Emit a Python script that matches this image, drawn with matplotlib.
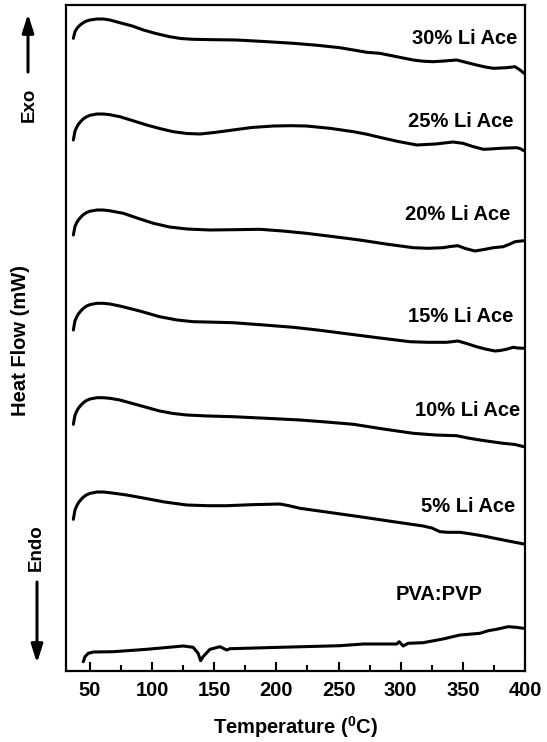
import matplotlib
matplotlib.use("Agg")
import matplotlib.pyplot as plt
from matplotlib.patches import FancyArrowPatch
from matplotlib.ticker import MultipleLocator

plt.rcParams['font.family'] = ['Liberation Sans', 'DejaVu Sans']
plt.rcParams['font.weight'] = 'bold'
plt.rcParams['mathtext.fontset'] = 'custom'
plt.rcParams['mathtext.rm'] = 'Liberation Sans:bold'
plt.rcParams['mathtext.bf'] = 'Liberation Sans:bold'
plt.rcParams['mathtext.it'] = 'Liberation Sans:bold'

# Temperature (°C) / heat flow (arbitrary, stacked)
t30 = [36.6, 37.9, 39.2, 40.6, 42.5, 44.6, 47, 50, 55.6, 60.7, 66, 74, 84, 93, 103, 114, 123, 133, 150, 168, 190,
       213.6, 233, 251, 262, 272.6, 283, 296, 310, 318, 326, 335, 345, 353, 361, 368, 374.5, 385, 392, 396, 400]
h30 = [632.7, 639.3, 642.0, 644.3, 646.4, 648.3, 649.9, 651.0, 652, 652, 651, 648.3, 645, 641, 637.5, 634.3, 632.5, 631.7, 631.3, 631, 629.5,
       627.7, 625.7, 623.3, 621, 618.7, 617.7, 614.5, 611, 609.8, 609.3, 610, 611, 608.5, 606, 604, 602.7, 603.3, 604.3, 601, 597]

t25 = [36.6, 37.9, 39.2, 40.6, 42.5, 44.6, 47, 50, 55.6, 60.7, 66, 74, 84, 95.6, 106, 117, 128, 138.5, 150, 165, 180,
       197.5, 212, 224, 243, 262, 273, 283, 298, 313, 328, 342, 350, 358, 366.5, 372, 380, 393, 396, 399]
h25 = [531, 539.8, 543.5, 546.6, 549.5, 552.1, 554.1, 555.7, 557, 557, 556.3, 554.3, 550.5, 546, 542.5, 539.3, 537.5, 537, 538.5, 541, 543.5,
       545, 545.3, 545, 542.7, 539.3, 536.7, 533.7, 529.5, 526, 527, 529, 527.7, 524.5, 521.7, 522, 522.7, 523.3, 522.5, 520.3]

t20 = [36.6, 37.9, 39.2, 40.6, 42.5, 44.6, 47, 50, 55.6, 60.7, 66, 76.8, 89, 101, 114, 128, 146.5, 166, 186.8, 205,
       224, 245, 267, 288, 310, 322, 334, 340, 346, 352, 359.7, 367, 374.5, 382.5, 387, 392, 399]
h20 = [436, 444.5, 448, 451, 453.8, 456.3, 458.3, 459.8, 461, 461, 460.2, 457.7, 452.5, 447.7, 444, 442, 441, 441.3, 441.7, 440,
       437.7, 434.5, 431, 427, 423.3, 422.7, 423.3, 424.5, 425.3, 422.5, 420, 421.5, 423.3, 424.3, 426.5, 429.3, 430.3]

t15 = [36.6, 37.9, 39.2, 40.6, 42.5, 44.6, 47, 50, 55.6, 60.7, 66, 74, 90, 106, 120, 133, 150, 165, 190, 213.6,
       233, 253.8, 280, 307.4, 322, 337, 346, 353, 361, 368, 375.8, 380, 385, 390.5, 394, 399]
h15 = [341, 350.1, 353.8, 357, 359.9, 362.6, 364.8, 366.4, 367.7, 367.7, 367, 365, 360, 354.3, 351, 349.3, 348.8, 348.3, 346, 343.7,
       341, 337.7, 333.5, 329.3, 328.7, 328.7, 330, 327.5, 324.3, 322, 320, 320.5, 321.7, 323.7, 323, 322.7]

t10 = [36.6, 37.9, 39.2, 40.6, 42.5, 44.6, 47, 50, 55.6, 60.7, 66, 74, 90, 106, 117, 127.8, 145, 165, 192, 219,
       240, 262, 286, 310, 328, 345, 354, 363.7, 372, 382.5, 392, 399]
h10 = [246.7, 255.7, 259.5, 262.7, 265.6, 268.2, 270.4, 272, 273.3, 273.3, 272.7, 271, 265.5, 260, 257.5, 256, 255, 254.3, 252.7, 251,
       249, 246.7, 242, 237.7, 236, 235.3, 233, 231, 229.5, 227.7, 226.5, 224.3]

t05 = [36.6, 37.9, 39.2, 40.6, 42.5, 44.6, 47, 50, 55.6, 60.7, 66, 79.5, 95, 110, 127.8, 145, 160, 180, 202.9, 210,
       219, 243, 267, 292, 318, 325, 331.6, 338, 347.7, 357, 366.5, 382.5, 399]
h05 = [151.7, 161, 164.8, 168.1, 171.1, 173.8, 176, 177.6, 179, 179, 178.3, 176, 172.5, 169, 166, 165.3, 165.3, 166.3, 167, 165.3,
       162.7, 158.5, 154.3, 149.7, 145, 143, 139.3, 138.7, 138.7, 137, 135, 131, 127]

t00 = [44.6, 46, 48.6, 52.7, 68.7, 95.6, 125, 133, 137, 139, 141, 146.5, 154.6, 160, 162.6, 202.9, 251, 270,
       296.7, 298.8, 302, 306, 318, 334, 347.7, 363.7, 370.5, 377, 386.5, 393, 398.5]
h00 = [9.3, 14.3, 17.7, 19, 19.3, 21.7, 25, 23.7, 17.7, 10.3, 14.3, 21.7, 24.3, 21, 22.3, 23.7, 25.3, 27,
       27, 29.3, 25, 27.7, 28.3, 32, 36, 37.7, 40.3, 41.7, 44.3, 43.7, 42.7]

curves_t = [t30, t25, t20, t15, t10, t05, t00]
curves_h = [h30, h25, h20, h15, h10, h05, h00]
labels = ['30% Li Ace', '25% Li Ace', '20% Li Ace', '15% Li Ace', '10% Li Ace', '5% Li Ace', 'PVA:PVP']
label_x = [517, 513, 510, 513, 520, 515, 483]   # right edge, pixels
label_y = [38.5, 121.5, 215, 316, 410, 506, 595]

W, H = 547, 742
fig = plt.figure(figsize=(W / 100, H / 100), dpi=100)
ax = fig.add_axes([66 / W, 1 - 671 / H, (525 - 66) / W, (671 - 5) / H])

for t, h in zip(curves_t, curves_h):
    ax.plot(t, h, color='black', lw=2.2, solid_capstyle='round', solid_joinstyle='round')

x0 = 50 - (90 - 66) / 1.243
ax.set_xlim(x0, 400)
ax.set_ylim(0, 666)
ax.xaxis.set_major_locator(MultipleLocator(50))
ax.xaxis.set_minor_locator(MultipleLocator(25))
ax.tick_params(axis='x', which='major', direction='in', length=6.5, width=1.5,
               labelsize=14.5, pad=7, top=False)
ax.tick_params(axis='x', which='minor', direction='in', length=4, width=1.5, top=False)
ax.set_yticks([])
for s in ax.spines.values():
    s.set_linewidth(1.6)
for lab in ax.get_xticklabels():
    lab.set_fontweight('bold')

for lab, px, py in zip(labels, label_x, label_y):
    fig.text(px / W, 1 - py / H, lab, ha='right', va='center', fontsize=14.5, fontweight='bold')

fig.text(296 / W, 1 - 727 / H, r'Temperature ($^{0}$C)', ha='center', va='center',
         fontsize=14.5, fontweight='bold')
fig.text(21 / W, 1 - 340 / H, 'Heat Flow (mW)', rotation=90, ha='center', va='center',
         fontsize=14.5, fontweight='bold')
fig.text(29 / W, 1 - 105 / H, 'Exo', rotation=90, ha='center', va='center',
         fontsize=13.5, fontweight='bold')
fig.text(36 / W, 1 - 548 / H, 'Endo', rotation=90, ha='center', va='center',
         fontsize=13.5, fontweight='bold')

arrow = dict(arrowstyle='-|>,head_length=1.1,head_width=0.35', mutation_scale=10,
             color='black', lw=2.2, shrinkA=0, shrinkB=0, transform=fig.transFigure)
fig.add_artist(FancyArrowPatch((28 / W, 1 - 72 / H), (28 / W, 1 - 14 / H), **arrow))
fig.add_artist(FancyArrowPatch((37 / W, 1 - 582 / H), (37 / W, 1 - 663 / H), **arrow))

fig.savefig('out.png', dpi=100)
